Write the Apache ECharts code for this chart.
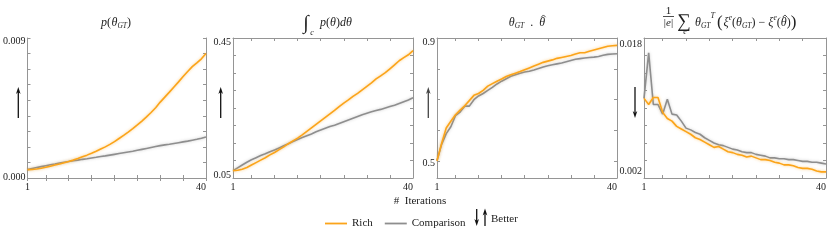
<!DOCTYPE html>
<html><head><meta charset="utf-8">
<script src="https://cdn.jsdelivr.net/npm/echarts@6/dist/echarts.min.js"></script>
<style>html,body{margin:0;padding:0;background:#fff}#c{width:830px;height:241px}</style>
</head><body><div id="c"></div><script>
// ---------- data ----------
const iterations = [1,2,3,4,5,6,7,8,9,10,11,12,13,14,15,16,17,18,19,20,21,22,23,24,25,26,27,28,29,30,31,32,33,34,35,36,37,38,39,40];
const xTickValues = [1,5,10,15,20,25,30,35,40];
const xLabelValues = [1,40];

// Panel 1: p(theta_GT)
const richP1 = [0.00054,0.00055,0.00058,0.00063,0.00069,0.00076,0.00083,0.00090,0.00098,0.00106,
  0.00115,0.00125,0.00136,0.00147,0.00159,0.00172,0.00186,0.00200,0.00216,0.00234,
  0.00254,0.00274,0.00295,0.00317,0.00341,0.00366,0.00393,0.00421,0.00452,0.00488,
  0.00520,0.00552,0.00585,0.00618,0.00652,0.00685,0.00716,0.00740,0.00766,0.00800];
const compP1 = [0.00054,0.00061,0.00067,0.00073,0.00079,0.00085,0.00090,0.00096,0.00101,0.00106,
  0.00111,0.00115,0.00120,0.00124,0.00129,0.00133,0.00138,0.00142,0.00147,0.00152,
  0.00157,0.00162,0.00167,0.00172,0.00178,0.00184,0.00190,0.00196,0.00202,0.00208,
  0.00213,0.00217,0.00222,0.00227,0.00232,0.00237,0.00243,0.00249,0.00256,0.00264];
const yTicksP1 = [0,0.001,0.002,0.003,0.004,0.005,0.006,0.007,0.008,0.009];
const yLabelsP1 = [0,0.009];

// Panel 2: integral over c of p(theta)
const richP2 = [0.071,0.072,0.075,0.080,0.087,0.094,0.101,0.108,0.116,0.123,
  0.131,0.139,0.148,0.156,0.164,0.173,0.183,0.193,0.203,0.213,
  0.223,0.233,0.243,0.254,0.264,0.273,0.283,0.292,0.302,0.312,
  0.322,0.333,0.342,0.351,0.362,0.373,0.385,0.394,0.402,0.414];
const compP2 = [0.071,0.079,0.087,0.095,0.102,0.108,0.114,0.119,0.125,0.130,
  0.136,0.142,0.148,0.154,0.160,0.166,0.171,0.176,0.182,0.187,
  0.192,0.197,0.201,0.206,0.211,0.216,0.221,0.226,0.231,0.235,
  0.239,0.243,0.246,0.250,0.254,0.258,0.263,0.268,0.273,0.279];
const yTicksP2 = [0.05,0.10,0.15,0.20,0.25,0.30,0.35,0.40,0.45];
const yLabelsP2 = [0.05,0.45];

// Panel 3: theta_GT . theta_hat
const richP3 = [0.502,0.558,0.608,0.630,0.651,0.666,0.680,0.697,0.714,0.720,
  0.730,0.744,0.752,0.760,0.767,0.775,0.781,0.786,0.791,0.797,
  0.803,0.809,0.815,0.821,0.825,0.829,0.834,0.837,0.840,0.843,
  0.848,0.852,0.852,0.857,0.861,0.865,0.869,0.873,0.875,0.876];
const compP3 = [0.502,0.555,0.590,0.612,0.648,0.660,0.679,0.679,0.700,0.712,
  0.720,0.730,0.740,0.751,0.760,0.768,0.776,0.781,0.786,0.790,
  0.792,0.796,0.801,0.806,0.810,0.813,0.816,0.819,0.823,0.827,
  0.831,0.833,0.835,0.837,0.838,0.840,0.844,0.847,0.848,0.849];
const yTicksP3 = [0.5,0.6,0.7,0.8,0.9];
const yLabelsP3 = [0.5,0.9];

// Panel 4: 1/|e| sum ...
const richP4 = [0.0111,0.0104,0.0112,0.0112,0.0095,0.0088,0.0085,0.0079,0.0076,0.0073,
  0.0070,0.0066,0.0064,0.0061,0.0058,0.0055,0.0056,0.0053,0.0050,0.0049,
  0.0047,0.0046,0.0044,0.0045,0.0043,0.0041,0.0041,0.0040,0.0038,0.0037,
  0.0035,0.0035,0.0034,0.0032,0.0031,0.0031,0.0030,0.0028,0.0027,0.0027];
const compP4 = [0.0111,0.0163,0.0104,0.0104,0.0093,0.0110,0.0093,0.0092,0.0085,0.0077,
  0.0075,0.0072,0.0070,0.0066,0.0063,0.0060,0.0058,0.0057,0.0055,0.0053,
  0.0052,0.0050,0.0049,0.0049,0.0047,0.0046,0.0045,0.0043,0.0043,0.0042,
  0.0042,0.0041,0.0041,0.0040,0.0039,0.0039,0.0038,0.0038,0.0037,0.0036];
const yTicksP4 = [0.002,0.004,0.006,0.008,0.010,0.012,0.014,0.016,0.018];
const yLabelsP4 = [0.002,0.018];

// ---------- layout / style ----------
const SERIF = "'Liberation Serif','DejaVu Serif',serif";
const ORANGE = '#FBA41A';
const GRAY = '#8E8E8E';
const FRAME = '#959595';
const TXT = '#222';

const panels = [
  {left:26, width:180, min:0, max:0.009, yt:yTicksP1, yl:yLabelsP1, dec:3, r:richP1, c:compP1, ts:3.4, bs:1, ms:0},
  {left:233, width:180, min:0.05, max:0.45, yt:yTicksP2, yl:yLabelsP2, dec:2, r:richP2, c:compP2, ts:4, bs:2.5, ms:0},
  {left:437, width:180, min:0.446, max:0.9, yt:yTicksP3, yl:yLabelsP3, dec:1, r:richP3, c:compP3, ts:4, bs:0, ms:2.5},
  {left:644, width:182, min:0.002, max:0.018, yt:yTicksP4, yl:yLabelsP4, dec:3, r:richP4, c:compP4, ts:6.5, bs:6.5, ms:0}
];

const grid=[], xAxis=[], yAxis=[], series=[];
const lblFont = {fontFamily:SERIF, fontSize:10, color:TXT};
panels.forEach((p,k)=>{
  grid.push({left:p.left, top:38, width:p.width, height:140});
  const lineS = {show:true, lineStyle:{color:FRAME, width:1}};
  xAxis.push({type:'value', gridIndex:k, position:'bottom', min:1, max:40,
    axisLine:lineS, splitLine:{show:false},
    axisTick:{show:true, inside:true, length:3, customValues:xTickValues, lineStyle:{color:FRAME}},
    axisLabel:{show:true, customValues:xLabelValues, margin:4, fontFamily:SERIF, fontSize:10, color:TXT, alignMaxLabel:'right'}});
  xAxis.push({type:'value', gridIndex:k, position:'top', min:1, max:40,
    axisLine:lineS, splitLine:{show:false},
    axisTick:{show:true, inside:true, length:3, customValues:xTickValues, lineStyle:{color:FRAME}},
    axisLabel:{show:false}});
  const near=(a,b)=>Math.abs(a-b)<1e-9;
  yAxis.push({type:'value', gridIndex:k, position:'left', min:p.min, max:p.max,
    axisLine:lineS, splitLine:{show:false},
    axisTick:{show:true, inside:true, length:3, customValues:p.yt, lineStyle:{color:FRAME}},
    axisLabel:{show:true, customValues:p.yl, margin:2,
      formatter:(v)=>{const s=v.toFixed(p.dec); if(near(v,p.max)) return '{t|'+s+'}'; if(near(v,p.min)) return '{b|'+s+'}'; return '{m|'+s+'}';},
      rich:{t:Object.assign({padding:[2*p.ts,0,0,0]},lblFont), b:Object.assign({padding:[0,0,2*p.bs,0]},lblFont), m:Object.assign({padding:[2*p.ms,0,0,0]},lblFont)}}});
  yAxis.push({type:'value', gridIndex:k, position:'right', min:p.min, max:p.max,
    axisLine:lineS, splitLine:{show:false},
    axisTick:{show:true, inside:true, length:3, customValues:p.yt, lineStyle:{color:FRAME}},
    axisLabel:{show:false}});
  series.push({name:'Comparison', type:'line', xAxisIndex:2*k, yAxisIndex:2*k, symbol:'none', showSymbol:false,
    data: iterations.map((x,i)=>[x,p.c[i]]),
    lineStyle:{color:GRAY, width:1.6, shadowColor:'rgba(140,140,140,0.45)', shadowBlur:3}, itemStyle:{color:GRAY}});
  series.push({name:'Rich', type:'line', xAxisIndex:2*k, yAxisIndex:2*k, symbol:'none', showSymbol:false,
    data: iterations.map((x,i)=>[x,p.r[i]]),
    lineStyle:{color:ORANGE, width:1.6, shadowColor:'rgba(251,164,26,0.55)', shadowBlur:3}, itemStyle:{color:ORANGE}});
});

// ---------- graphics: titles (typeset token by token), arrows, axis title ----------
const mctx = document.createElement('canvas').getContext('2d');
function tokW(tk){ mctx.font=(tk.it?'italic ':'')+(tk.s||12)+'px '+SERIF; return mctx.measureText(tk.t).width; }
function typeset(x0, yMid, tokens, center){
  let total=0; tokens.forEach(tk=>{ total+=tokW(tk)+(tk.g||0); });
  let x = center ? x0-total/2 : x0;
  const els=[];
  tokens.forEach(tk=>{
    const w=tokW(tk), s=tk.s||12, y=yMid+(tk.dy||0);
    els.push({type:'text', x:x, y:y, silent:true, style:{text:tk.t, align:'left', verticalAlign:'middle',
      fontFamily:SERIF, fontSize:s, fontStyle:tk.it?'italic':'normal', fill:TXT}});
    if(tk.hat){ const cx=x+w/2+1.2, hy=y-s*0.62;
      els.push({type:'polyline', silent:true, shape:{points:[[cx-2.2,hy+1.6],[cx,hy-0.6],[cx+2.2,hy+1.6]]}, style:{stroke:TXT, lineWidth:0.8, fill:null}}); }
    x+=w+(tk.g||0);
  });
  return els;
}
function txt(x,y,text,opt){
  return {type:'text', x:x, y:y, silent:true, style:Object.assign({text:text, align:'center', verticalAlign:'middle', fill:TXT, fontFamily:SERIF, fontSize:12}, opt||{})};
}
function arrow(x,yTail,yTip,color){
  const dir = yTip<yTail ? -1 : 1, hl=7, hw=2.3;
  return [
    {type:'line', silent:true, shape:{x1:x,y1:yTail,x2:x,y2:yTip-dir*hl*0.6}, style:{stroke:color, lineWidth:1.3}},
    {type:'polygon', silent:true, shape:{points:[[x,yTip],[x-hw,yTip-dir*hl],[x,yTip-dir*hl*0.7],[x+hw,yTip-dir*hl]]}, style:{fill:color}}
  ];
}
const SUB = {s:7.5, it:true, dy:3};
let graphic = [];
// P1 title
graphic = graphic.concat(typeset(116,23,[
  {t:'p',it:true},{t:'(',g:0.5},{t:'θ',it:true},Object.assign({t:'GT'},SUB),{t:')'}],true));
// P2 title
graphic.push(txt(306,24,'∫',{fontSize:20}));
graphic.push(txt(312,33,'c',{fontStyle:'italic', fontSize:8}));
graphic = graphic.concat(typeset(320,23,[
  {t:'p',it:true},{t:'('},{t:'θ',it:true},{t:')'},{t:'d',it:true},{t:'θ',it:true}],false));
// P3 title
graphic = graphic.concat(typeset(527,23,[
  {t:'θ',it:true},Object.assign({t:'GT'},SUB),{t:'  .  '},{t:'θ',it:true,hat:true}],true));
// P4 title
graphic.push(txt(668.5,11.5,'1',{fontSize:11}));
graphic.push({type:'line', silent:true, shape:{x1:663,y1:16.5,x2:674,y2:16.5}, style:{stroke:TXT, lineWidth:0.8}});
graphic = graphic.concat(typeset(668.5,23,[{t:'|',s:11},{t:'e',s:11,it:true},{t:'|',s:11}],true));
graphic.push(txt(684,22.5,'∑',{fontSize:19}));
graphic.push(txt(685,32,'e',{fontStyle:'italic', fontSize:8}));
graphic = graphic.concat(typeset(695,23,[
  {t:'θ',it:true},Object.assign({t:'GT'},SUB),{t:'T',s:8,it:true,dy:-7,g:2},{t:'(',s:17,dy:-0.5,g:1},
  {t:'ξ',it:true},{t:'e',s:7.5,it:true,dy:-5},{t:'('},{t:'θ',it:true},Object.assign({t:'GT'},SUB),{t:')'},
  {t:' − '},{t:'ξ',it:true},{t:'e',s:7.5,it:true,dy:-5},{t:'('},{t:'θ',it:true,hat:true},{t:')'},{t:')',s:17,dy:-0.5}],false));
graphic.push(txt(420,201,'#  Iterations',{fontSize:11}));
graphic.push(txt(491,219.5,'Better',{align:'left', fontSize:11}));
graphic = graphic.concat(arrow(18.3,118,87,'#111'), arrow(220.7,118,87,'#111'), arrow(428.3,118,87,'#444'), arrow(635,87,118,'#111'),
         arrow(476.7,209,226,'#111'), arrow(485,226,208.5,'#111'));

const chart = echarts.init(document.getElementById('c'), null, {renderer:'canvas'});
chart.setOption({
  animation:false,
  backgroundColor:'#fff',
  grid, xAxis, yAxis, series, graphic,
  legend:{data:[{name:'Rich', icon:'rect'},{name:'Comparison', icon:'rect'}], left:320, top:213, itemWidth:22, itemHeight:1.8, itemGap:12,
    textStyle:{fontFamily:SERIF, fontSize:11, color:TXT}, itemStyle:{shadowBlur:0}, lineStyle:{shadowBlur:0}, selectedMode:false}
});
</script></body></html>
